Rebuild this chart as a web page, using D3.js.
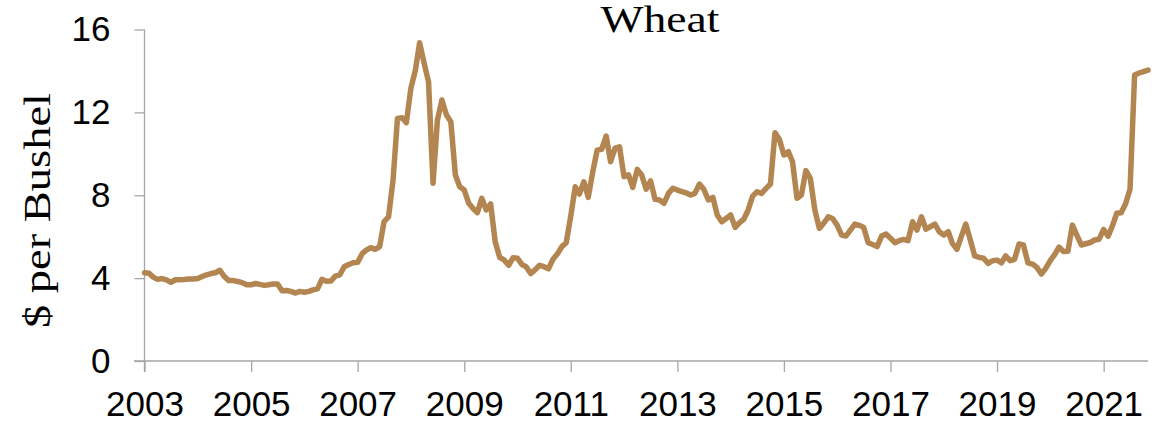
<!DOCTYPE html>
<html>
<head>
<meta charset="utf-8">
<script src="https://cdn.jsdelivr.net/npm/d3@7"></script>
<style>
  html, body { margin: 0; padding: 0; background: #ffffff; }
  svg { display: block; }
</style>
</head>
<body>
<svg id="chart" width="1167" height="426"></svg>
<script>
// ---- data (monthly, starting January 2003) ----
const title = "Wheat";
const yLabel = "$ per Bushel";
const startYear = 2003;
const prices = [
  4.26, 4.24, 4.05, 3.94, 3.98, 3.92, 3.80, 3.92, 3.92, 3.93,
  3.96, 3.96, 3.98, 4.08, 4.16, 4.22, 4.26, 4.38, 4.08, 3.88,
  3.88, 3.84, 3.78, 3.68, 3.68, 3.74, 3.70, 3.65, 3.68, 3.72,
  3.72, 3.39, 3.40, 3.36, 3.28, 3.36, 3.32, 3.36, 3.43, 3.48,
  3.94, 3.85, 3.86, 4.10, 4.16, 4.55, 4.66, 4.74, 4.76, 5.18,
  5.35, 5.47, 5.39, 5.52, 6.72, 6.96, 8.74, 11.71, 11.74, 11.50,
  13.16, 14.04, 15.36, 14.37, 13.48, 8.58, 11.63, 12.60, 11.87, 11.55,
  8.98, 8.41, 8.25, 7.61, 7.37, 7.16, 7.85, 7.29, 7.58, 5.75,
  5.00, 4.88, 4.62, 4.98, 4.96, 4.65, 4.55, 4.22, 4.40, 4.62,
  4.55, 4.45, 4.91, 5.16, 5.52, 5.71, 7.00, 8.41, 8.06, 8.65,
  7.90, 9.14, 10.18, 10.22, 10.86, 9.62, 10.27, 10.34, 8.90, 8.98,
  8.38, 9.25, 8.98, 8.29, 8.69, 7.80, 7.77, 7.61, 8.09, 8.34,
  8.25, 8.18, 8.12, 8.01, 8.09, 8.54, 8.29, 7.77, 7.90, 7.05,
  6.72, 6.88, 7.05, 6.45, 6.67, 6.84, 7.29, 7.96, 8.17, 8.09,
  8.33, 8.54, 11.02, 10.70, 9.94, 10.10, 9.62, 7.85, 8.01, 9.19,
  8.82, 7.29, 6.40, 6.65, 6.96, 6.88, 6.56, 6.08, 6.03, 6.32,
  6.61, 6.55, 6.45, 5.71, 5.62, 5.52, 6.03, 6.13, 5.92, 5.71,
  5.81, 5.87, 5.81, 6.72, 6.32, 6.96, 6.36, 6.48, 6.61, 6.24,
  6.08, 6.24, 5.68, 5.39, 6.00, 6.61, 5.87, 5.07, 5.00, 4.96,
  4.71, 4.84, 4.87, 4.74, 5.07, 4.84, 4.91, 5.65, 5.60, 4.74,
  4.68, 4.52, 4.20, 4.47, 4.85, 5.15, 5.50, 5.28, 5.30, 6.56,
  6.08, 5.60, 5.66, 5.72, 5.84, 5.88, 6.35, 6.02, 6.50, 7.13,
  7.16, 7.60, 8.30, 13.80, 13.90, 13.97, 14.04
];
const yTicks = [0, 4, 8, 12, 16];
const xTickYears = [2003, 2005, 2007, 2009, 2011, 2013, 2015, 2017, 2019, 2021];

// ---- build ----
const data = prices.map((v, i) => ({ date: new Date(startYear, i, 1), value: v }));

const svg = d3.select("#chart");
const axisColor = "#A6A6A6";
const lineColor = "#B38550";
const sansFont = "'Liberation Sans', Arial, sans-serif";
const serifFont = "'Liberation Serif', 'Times New Roman', serif";

const x = d3.scaleTime()
  .domain([data[0].date, data[data.length - 1].date])
  .range([144.5, 1148]);
const y = d3.scaleLinear().domain([0, 16]).range([361, 29.5]);

// Y axis
const yAxis = svg.append("g").attr("transform", "translate(144.5,0)")
  .call(d3.axisLeft(y).tickValues(yTicks).tickSize(10).tickPadding(24).tickFormat(d3.format("d")));
yAxis.select(".domain").attr("stroke", axisColor).attr("stroke-width", 1.3)
  .attr("d", `M0,${y(16)}V${y(0) + 11}`);
yAxis.selectAll(".tick line").attr("stroke", axisColor).attr("stroke-width", 1.3);
yAxis.selectAll(".tick text")
  .attr("font-family", sansFont)
  .attr("font-size", 35).attr("fill", "#000");

// X axis
const xAxis = svg.append("g").attr("transform", `translate(0,${y(0)})`)
  .call(d3.axisBottom(x)
    .tickValues(xTickYears.map(yr => new Date(yr, 0, 1)))
    .tickSize(11).tickPadding(19).tickFormat(d3.timeFormat("%Y")));
xAxis.select(".domain").attr("stroke", axisColor).attr("stroke-width", 1.3)
  .attr("d", `M134,0H${x.range()[1]}`);
xAxis.selectAll(".tick line").attr("stroke", axisColor).attr("stroke-width", 1.3);
xAxis.selectAll(".tick text")
  .attr("font-family", sansFont)
  .attr("font-size", 35).attr("fill", "#000");

// line
svg.append("path")
  .datum(data)
  .attr("fill", "none")
  .attr("stroke", lineColor)
  .attr("stroke-width", 5.5)
  .attr("stroke-linejoin", "round")
  .attr("stroke-linecap", "round")
  .attr("d", d3.line().x(d => x(d.date)).y(d => y(d.value)));

// title
svg.append("text")
  .attr("x", 660).attr("y", 32)
  .attr("text-anchor", "middle")
  .attr("font-family", serifFont)
  .attr("font-size", 37)
  .attr("textLength", 119).attr("lengthAdjust", "spacingAndGlyphs")
  .attr("fill", "#000")
  .text(title);

// y label
svg.append("text")
  .attr("transform", "translate(50,210.5) rotate(-90)")
  .attr("text-anchor", "middle")
  .attr("font-family", serifFont)
  .attr("font-size", 37)
  .attr("textLength", 235).attr("lengthAdjust", "spacingAndGlyphs")
  .attr("fill", "#000")
  .text(yLabel);
</script>
</body>
</html>
